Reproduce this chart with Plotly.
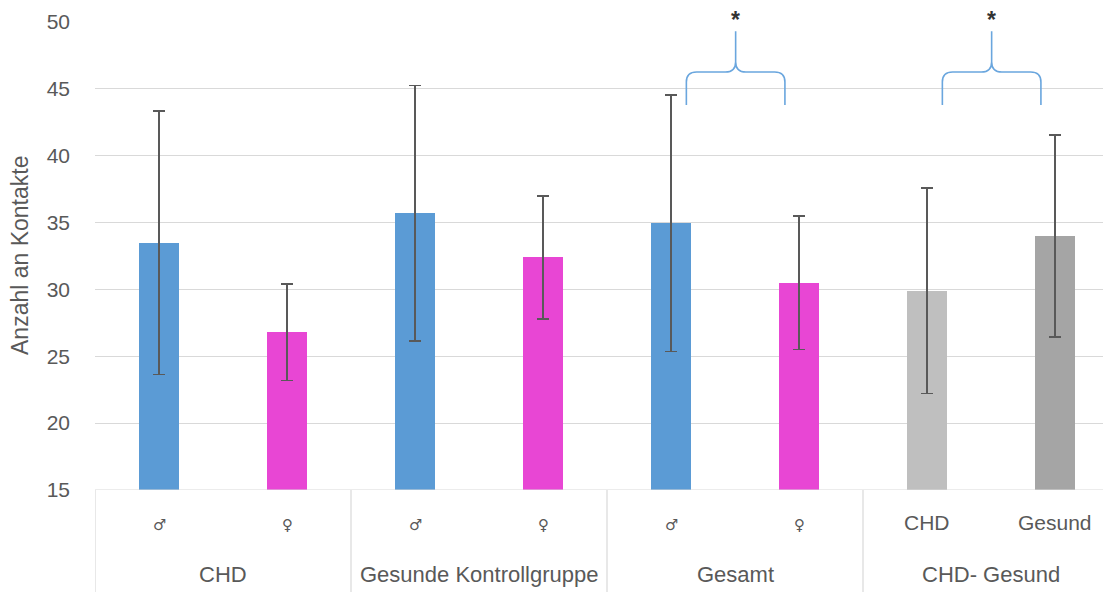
import plotly.graph_objects as go

# ---- data ----
sub_labels = ["♂", "♀", "♂", "♀", "♂", "♀", "CHD", "Gesund"]
group_labels = ["CHD", "Gesunde Kontrollgruppe", "Gesamt", "CHD- Gesund"]
means = [33.5, 26.8, 35.7, 32.4, 34.95, 30.5, 29.9, 34.0]
sds = [9.85, 3.6, 9.55, 4.6, 9.6, 5.0, 7.7, 7.55]
bar_colors = ["#5B9BD5", "#E846D4", "#5B9BD5", "#E846D4",
              "#5B9BD5", "#E846D4", "#BFBFBF", "#A5A5A5"]
sig_pairs = [(4, 5), (6, 7)]
sig_text = ["*", "*"]
y_title = "Anzahl an Kontakte"

FONT = "Liberation Sans, Arial, sans-serif"
TXT = "#595959"
GRID = "#D9D9D9"

W, H = 1103, 592
L, R, T, B = 95, 0, 22, 102
plot_h = H - T - B

xs = list(range(len(means)))

fig = go.Figure()
fig.add_trace(go.Bar(
    x=xs, y=[m - 15 for m in means], base=15,
    width=0.3125,
    marker=dict(color=bar_colors, line=dict(width=0)),
    error_y=dict(type="data", array=sds, visible=True,
                 color="#595959", thickness=1.5, width=6),
    hoverinfo="skip",
))

shapes = []
# bottom axis line
shapes.append(dict(type="line", xref="paper", yref="y", x0=0, x1=1, y0=15, y1=15,
                   line=dict(color=GRID, width=1.2)))
# vertical group separators in the category label area
n_groups = len(group_labels)
per = len(sub_labels) // n_groups
for g in range(n_groups):
    xsep = g * per - 0.5
    shapes.append(dict(type="line", xref="x", yref="paper", x0=xsep, x1=xsep,
                       y0=0, y1=-B / plot_h, line=dict(color=GRID, width=1.2)))

# significance braces
annotations = []
def brace(xa, xb, yb=43.8, yh=46.26, yp=49.3, rx=0.08, ry=0.75):
    xm = (xa + xb) / 2
    p = (f"M {xa},{yb} L {xa},{yh-ry} Q {xa},{yh} {xa+rx},{yh} L {xm-rx},{yh} "
         f"Q {xm},{yh} {xm},{yh+ry} L {xm},{yp} "
         f"M {xb},{yb} L {xb},{yh-ry} Q {xb},{yh} {xb-rx},{yh} L {xm+rx},{yh} "
         f"Q {xm},{yh} {xm},{yh+ry}")
    return p, xm

for (a, b), t in zip(sig_pairs, sig_text):
    p, xm = brace(a + 0.12, b - 0.11)
    shapes.append(dict(type="path", xref="x", yref="y", path=p,
                       line=dict(color="#6AA6DE", width=1.6)))
    annotations.append(dict(x=xm, y=1 + (T - 20) / plot_h, xref="x", yref="paper",
                            text=f"<b>{t}</b>",
                            showarrow=False, yanchor="middle",
                            font=dict(family=FONT, size=23, color="#333333")))

# category labels
for i, s in enumerate(sub_labels):
    is_sym = s in ("♂", "♀")
    annotations.append(dict(x=i, y=-(525 - (H - B)) / plot_h if is_sym else -(522 - (H - B)) / plot_h,
                            xref="x", yref="paper", text=s, showarrow=False,
                            yanchor="middle", xanchor="center",
                            font=dict(family="DejaVu Sans" if is_sym else FONT,
                                      size=15 if is_sym else 21, color=TXT)))
for g, s in enumerate(group_labels):
    xc = g * per + (per - 1) / 2
    annotations.append(dict(x=xc, y=-(574 - (H - B)) / plot_h, xref="x", yref="paper",
                            text=s, showarrow=False, yanchor="middle", xanchor="center",
                            font=dict(family=FONT, size=22, color=TXT)))
# y-axis title
annotations.append(dict(x=-(L - 20) / (W - L - R), y=0.5, xref="paper", yref="paper",
                        text=y_title, textangle=-90, showarrow=False,
                        xanchor="center", yanchor="middle",
                        font=dict(family=FONT, size=23, color=TXT)))

fig.update_layout(
    width=W, height=H,
    margin=dict(l=L, r=R, t=T, b=B, pad=0),
    plot_bgcolor="white", paper_bgcolor="white",
    showlegend=False,
    template="none",
    xaxis=dict(range=[-0.5, 7.375], showticklabels=False, showgrid=False,
               zeroline=False, showline=False, ticks="", automargin=False,
               fixedrange=True),
    yaxis=dict(range=[15, 50], tickvals=[15, 20, 25, 30, 35, 40, 45, 50],
               showgrid=True, gridcolor=GRID, gridwidth=1.2, zeroline=False,
               showline=False, ticks="", ticklabelstandoff=24, automargin=False,
               tickfont=dict(family=FONT, size=21, color=TXT), fixedrange=True),
    shapes=shapes,
    annotations=annotations,
    bargap=0,
)

fig.write_html("out.html", config={"displayModeBar": False},
               post_script="document.body.style.margin='0';document.body.style.overflow='hidden';")
